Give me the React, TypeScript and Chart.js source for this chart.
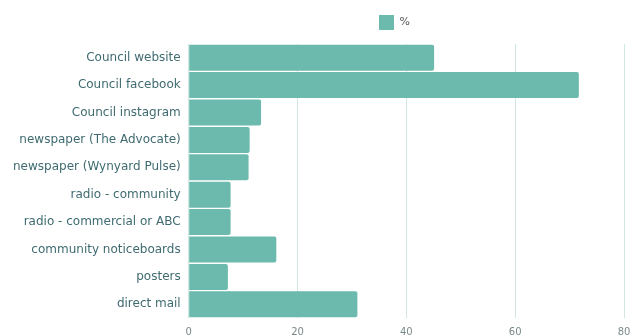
import React, { useEffect, useRef } from "react";
import { Chart, registerables } from "chart.js";

Chart.register(...registerables);

const categories = [
  "Council website",
  "Council facebook",
  "Council instagram",
  "newspaper (The Advocate)",
  "newspaper (Wynyard Pulse)",
  "radio - community",
  "radio - commercial or ABC",
  "community noticeboards",
  "posters",
  "direct mail",
];
const percentValues = [45.1, 71.7, 13.3, 11.2, 11, 7.7, 7.7, 16.1, 7.2, 31];
const seriesLabel = "%";
const xTicks = [0, 20, 40, 60, 80];

const legendShift = {
  id: "legendShift",
  afterLayout(chart: any) {
    if (chart.legend) {
      chart.legend.left += 160;
      chart.legend.top -= 4;
    }
  },
};

export default function App() {
  const ref = useRef<HTMLCanvasElement | null>(null);
  useEffect(() => {
    if (!ref.current) return;
    const chart = new Chart(ref.current, {
      type: "bar",
      data: {
        labels: categories,
        datasets: [
          {
            label: seriesLabel,
            data: percentValues,
            backgroundColor: "#6cbaad",
            borderColor: "#6cbaad",
            borderWidth: 0,
            borderRadius: 2,
            barPercentage: 0.95,
            categoryPercentage: 1,
          },
        ],
      },
      options: {
        indexAxis: "y",
        animation: false,
        responsive: true,
        maintainAspectRatio: false,
        layout: { padding: { top: 5, right: 11, bottom: -10, left: 5 } },
        plugins: {
          legend: {
            display: true,
            labels: {
              boxWidth: 15,
              boxHeight: 15,
              color: "#555",
              font: { family: "DejaVu Sans", size: 11 },
              padding: 14,
            },
          },
          tooltip: { enabled: false },
        },
        scales: {
          x: {
            min: 0,
            max: 80,
            afterBuildTicks: (axis: any) => {
              axis.ticks = xTicks.map((v) => ({ value: v }));
            },
            afterFit: (scale: any) => {
              scale.paddingRight = 0;
            },
            grid: { color: "#cfe6e1", lineWidth: 1, drawTicks: false },
            border: { display: false },
            ticks: {
              color: "#7a8a8a",
              font: { family: "DejaVu Sans", size: 10 },
              padding: 8,
            },
          },
          y: {
            grid: { display: false, drawTicks: false },
            border: { display: false },
            ticks: {
              color: "#3f6b70",
              font: { family: "DejaVu Sans", size: 12 },
              padding: 8,
            },
          },
        },
      },
      plugins: [legendShift],
    });
    return () => chart.destroy();
  }, []);
  return (
    <div style={{ position: "fixed", left: 0, top: 0, width: 635, height: 336 }}>
      <canvas ref={ref} />
    </div>
  );
}
